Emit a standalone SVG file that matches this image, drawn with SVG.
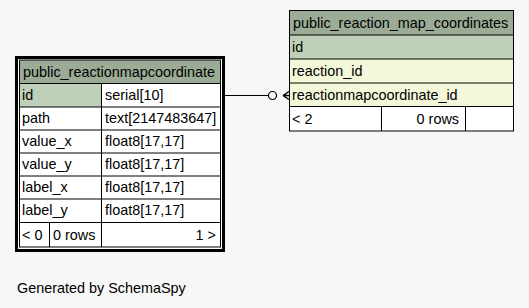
<svg xmlns="http://www.w3.org/2000/svg" width="529" height="308" viewBox="0 0 529 308">
  <style>
    text { font-family: "Liberation Sans", Arial, Helvetica, sans-serif; font-size: 14.4px; fill: #000; }
    .hdr { fill: #9bab96; }
    .pk { fill: #bed1b8; }
    .idx { fill: #f4f7da; }
    .plain { fill: #ffffff; }
    .grid { stroke: #000; stroke-width: 1; fill: none; }
    .end { text-anchor: end; }
  </style>
  <rect width="529" height="308" fill="#f7f7f7"/>

  <g id="connectors">
    <line x1="225" y1="95.5" x2="268.5" y2="95.5" stroke="#000" stroke-width="1"/>
    <circle cx="272.5" cy="95.5" r="4" fill="none" stroke="#000" stroke-width="1.2"/>
    <path d="M283 95.5 L289 91.5 M283 95.5 L289 95.5 M283 95.5 L289 99.5" stroke="#000" stroke-width="1.5" fill="none"/>
  </g>

  <g id="public_reactionmapcoordinate">
    <rect x="16.5" y="57.5" width="207" height="193" fill="#ffffff" stroke="#000" stroke-width="3"/>
    <rect class="hdr" x="19.5" y="60" width="201" height="23.5"/>
    <rect class="pk" x="19.5" y="83.5" width="82" height="23.5"/>
    <g class="grid">
      <rect x="19.5" y="60" width="201" height="187"/>
      <path d="M19.5 83.5 H220.5 M19.5 107 H220.5 M19.5 130 H220.5 M19.5 153 H220.5 M19.5 176 H220.5 M19.5 199 H220.5 M19.5 222.5 H220.5"/>
      <path d="M101.5 83.5 V247 M49.5 222.5 V247"/>
    </g>
    <text x="23" y="77">public_reactionmapcoordinate</text>
    <text x="22" y="100">id</text>
    <text x="105" y="100">serial[10]</text>
    <text x="22" y="123">path</text>
    <text x="105" y="123">text[2147483647]</text>
    <text x="22" y="146">value_x</text>
    <text x="105" y="146">float8[17,17]</text>
    <text x="22" y="169">value_y</text>
    <text x="105" y="169">float8[17,17]</text>
    <text x="22" y="192">label_x</text>
    <text x="105" y="192">float8[17,17]</text>
    <text x="22" y="215">label_y</text>
    <text x="105" y="215">float8[17,17]</text>
    <text x="22" y="240">&lt; 0</text>
    <text x="53" y="240">0 rows</text>
    <text class="end" x="216" y="240">1 &gt;</text>
  </g>

  <g id="public_reaction_map_coordinates">
    <rect class="hdr" x="289.5" y="10.5" width="224" height="24.5"/>
    <rect class="pk" x="289.5" y="35" width="224" height="24"/>
    <rect class="idx" x="289.5" y="59" width="224" height="47.5"/>
    <rect class="plain" x="289.5" y="106.5" width="224" height="24.5"/>
    <g class="grid">
      <rect x="289.5" y="10.5" width="224" height="120.5"/>
      <path d="M289.5 35 H513.5 M289.5 59 H513.5 M289.5 83 H513.5 M289.5 106.5 H513.5"/>
      <path d="M381.5 106.5 V131 M465.5 106.5 V131"/>
    </g>
    <text x="293" y="28">public_reaction_map_coordinates</text>
    <text x="292" y="52">id</text>
    <text x="292" y="76">reaction_id</text>
    <text x="292" y="100">reactionmapcoordinate_id</text>
    <text x="292" y="124">&lt; 2</text>
    <text class="end" x="459" y="124">0 rows</text>
  </g>

  <text x="17" y="293">Generated by SchemaSpy</text>
</svg>
